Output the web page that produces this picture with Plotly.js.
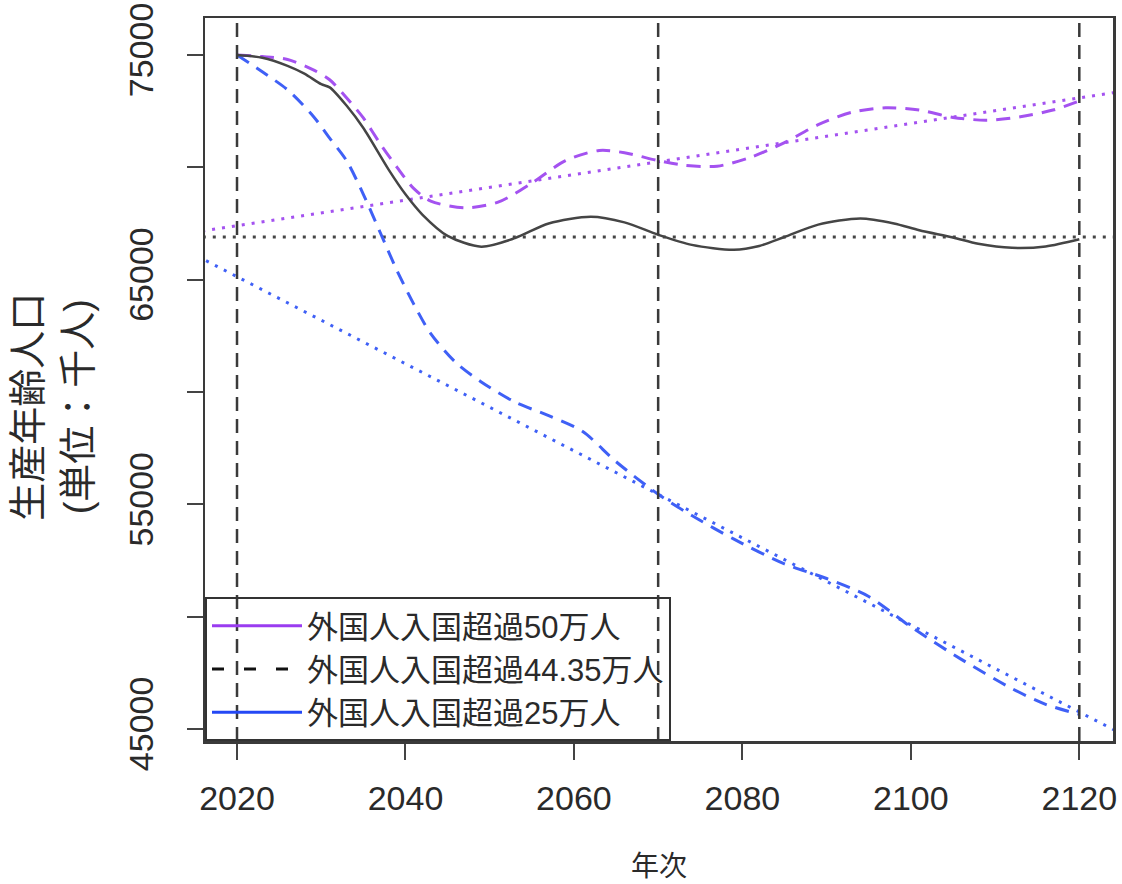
<!DOCTYPE html>
<html>
<head>
<meta charset="utf-8">
<script src="https://cdn.plot.ly/plotly-3.0.1.min.js"></script>
<style>
html,body{margin:0;padding:0;background:#fff;}
#chart{width:1122px;height:884px;}
</style>
</head>
<body>
<div id="chart"></div>
<script>
// ---- data (thousand persons) ----
const years50 = [2020,2023,2026,2029,2031,2033,2035,2037,2039,2041,2043,2047,2051,2055,2059,2063,2066,2070,2073,2077,2081,2085,2089,2093,2097,2101,2105,2109,2113,2117,2120];
const pop50   = [75000,74930,74800,74350,73900,73100,72200,71050,70000,69050,68500,68200,68450,69300,70300,70750,70650,70300,70100,70050,70450,71100,71900,72450,72650,72550,72220,72100,72250,72560,72950];

const years4435 = [2020,2023,2026,2028,2030,2031,2033,2035,2038,2040,2042,2045,2049,2053,2057,2062,2066,2070,2074,2079,2082,2085,2089,2094,2098,2101,2105,2108,2112,2116,2120];
const pop4435   = [75000,74880,74520,74170,73700,73560,72750,71750,69900,68800,67900,66950,66470,66850,67500,67800,67550,67000,66550,66330,66500,66900,67450,67720,67500,67200,66880,66600,66420,66480,66800];

const years25 = [2020,2023,2026,2029,2031,2033,2035,2037,2039,2041,2043,2046,2049,2053,2057,2061,2065,2070,2074,2079,2085,2090,2095,2100,2106,2112,2116,2120];
const pop25   = [75000,74250,73450,72300,71300,70300,68800,67100,65400,63900,62600,61300,60450,59550,58950,58250,56900,55450,54500,53450,52350,51700,50900,49550,48100,46800,46100,45650];

// trend / reference lines
const trendYears  = [2010, 2130];
const trend50     = [66830, 73660];
const trend25     = [67070, 43820];
const level4435   = [66900, 66900];
const markYears   = [2020, 2070, 2120];

// axes
const xTicks = [2020, 2040, 2060, 2080, 2100, 2120];
const yTicks = [45000, 50000, 55000, 60000, 65000, 70000, 75000];
const yTickText = ["45000", "", "55000", "", "65000", "", "75000"];

const legendNames = ["外国人入国超過50万人", "外国人入国超過44.35万人", "外国人入国超過25万人"];
const yTitle = "生産年齢人口<br>(単位：千人)";
const xTitle = "年次";

// ---- styles ----
const PURPLE = "#a452f0";
const BLUE = "#3f60f6";
const DARK = "#454545";
const TXT = "#2a2a2a";
const FONT = "Liberation Sans, Noto Sans CJK JP, sans-serif";

const traces = [
  {x: trendYears, y: trend50, mode: "lines", line: {color: PURPLE, width: 3, dash: "3px,7px"}, showlegend: false, hoverinfo: "skip"},
  {x: trendYears, y: trend25, mode: "lines", line: {color: BLUE, width: 3, dash: "3px,7px"}, showlegend: false, hoverinfo: "skip"},
  {x: trendYears, y: level4435, mode: "lines", line: {color: DARK, width: 3, dash: "3px,7px"}, showlegend: false, hoverinfo: "skip"},
  {x: years50, y: pop50, mode: "lines", line: {color: PURPLE, width: 3, dash: "14px,9px", shape: "spline", smoothing: 0.8}, showlegend: false},
  {x: years25, y: pop25, mode: "lines", line: {color: BLUE, width: 3, dash: "14px,9px", shape: "spline", smoothing: 0.8}, showlegend: false},
  {x: years4435, y: pop4435, mode: "lines", line: {color: DARK, width: 2.5, shape: "spline", smoothing: 0.8}, showlegend: false},
  // legend entries (styled as in the original legend)
  {x: [null], y: [null], mode: "lines", name: legendNames[0], line: {color: "#9a3cf0", width: 3}},
  {x: [null], y: [null], mode: "lines", name: legendNames[1], line: {color: "#111", width: 3, dash: "12px,20px"}},
  {x: [null], y: [null], mode: "lines", name: legendNames[2], line: {color: "#2448f5", width: 3}}
];

const shapes = markYears.map(v => ({
  type: "line", xref: "x", yref: "paper", x0: v, x1: v, y0: 0, y1: 1,
  line: {color: "#3a3a3a", width: 2.5, dash: "14px,8px"}
}));

const layout = {
  width: 1122, height: 884,
  margin: {l: 205, r: 9, t: 18, b: 143},
  paper_bgcolor: "#fff", plot_bgcolor: "#fff",
  font: {family: FONT, color: TXT},
  showlegend: true,
  xaxis: {
    range: [2016.2, 2124], tickvals: xTicks, ticks: "outside", ticklen: 16, tickwidth: 2, tickcolor: "#444",
    showline: true, mirror: true, linecolor: "#3a3a3a", linewidth: 2.5, showgrid: false, zeroline: false,
    tickfont: {size: 34, family: FONT, color: TXT}, ticklabelstandoff: 10,
    title: {text: xTitle, font: {size: 28, family: FONT, color: TXT}, standoff: 40}
  },
  yaxis: {
    range: [44466, 76647], tickvals: yTicks, ticktext: yTickText, tickangle: -90,
    ticks: "outside", ticklen: 16, tickwidth: 2, tickcolor: "#444",
    showline: true, mirror: true, linecolor: "#3a3a3a", linewidth: 2.5, showgrid: false, zeroline: false,
    tickfont: {size: 34, family: FONT, color: TXT}, ticklabelstandoff: 20
  },
  annotations: [{
    text: yTitle, xref: "paper", yref: "paper", x: -0.168, y: 0.463,
    xanchor: "center", yanchor: "middle", textangle: -90, showarrow: false,
    font: {size: 38, family: FONT, color: TXT}
  }],
  legend: {
    x: 0, y: 0, xanchor: "left", yanchor: "bottom",
    bgcolor: "rgba(0,0,0,0)", bordercolor: "#333", borderwidth: 2,
    font: {size: 31, family: FONT, color: TXT},
    itemwidth: 90, tracegroupgap: 0
  },
  shapes: shapes
};

Plotly.newPlot("chart", traces, layout, {displayModeBar: false, staticPlot: true});
</script>
</body>
</html>
